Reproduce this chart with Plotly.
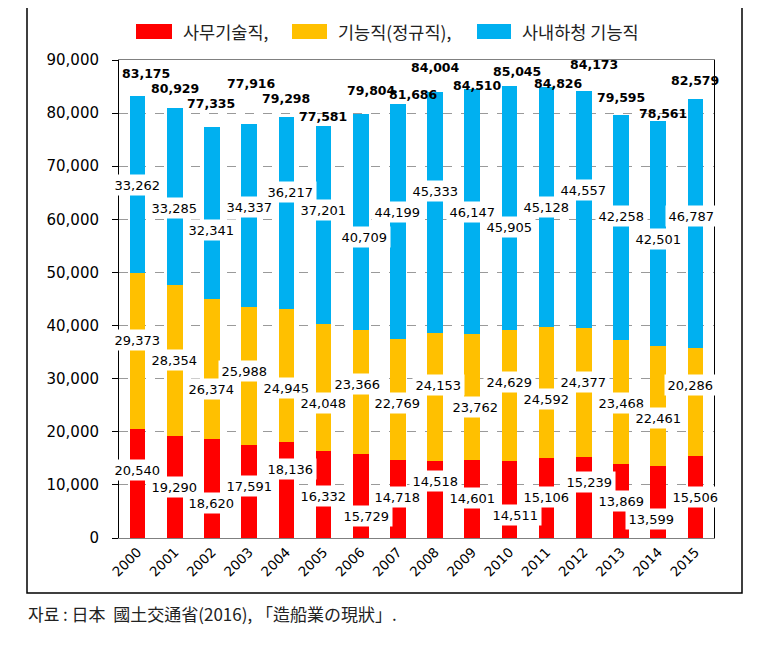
import plotly.graph_objects as go

# ---------------- data ----------------
years = [str(y) for y in range(2000, 2016)]
office_tech = [20540, 19290, 18620, 17591, 18136, 16332, 15729, 14718,
               14518, 14601, 14511, 15106, 15239, 13869, 13599, 15506]
skilled_regular = [29373, 28354, 26374, 25988, 24945, 24048, 23366, 22769,
                   24153, 23762, 24629, 24592, 24377, 23468, 22461, 20286]
subcontract = [33262, 33285, 32341, 34337, 36217, 37201, 40709, 44199,
               45333, 46147, 45905, 45128, 44557, 42258, 42501, 46787]
totals = [83175, 80929, 77335, 77916, 79298, 77581, 79804, 81686,
          84004, 84510, 85045, 84826, 84173, 79595, 78561, 82579]
series_names = ["사무기술직,", "기능직(정규직),", "사내하청 기능직"]
source_text = "자료 : 日本  國土交通省(2016), 「造船業の現狀」."

# ---------------- style ----------------
colors = ["#FF0000", "#FFC000", "#00B0F0"]
OFF = 8  # page body margin
W, H = 757 - OFF, 657 - OFF
L, T = 119 - OFF, 60 - OFF
R, B = W - (714 - OFF), H - (538 - OFF)
PW, PH = W - L - R, H - T - B

# label pixel offsets (style only)
red_dy = [13, 0, -14, 5, 21, -1, -20, 2, 18, 1, -16, 1, 16, 0, -17, 0]
red_dx = [0, 0, 0, 0, 4, 0, 6, 0, 0, 0, 6, 0, 6, 0, -7, 0]
org_dy = [11, 0, -20, 5, -13, -16, 8, -4, 12, -10, 14, -7, 10, -1, -12, 17]
org_dx = [0, 0, 0, -5, 0, 0, -3, 0, 3, 3, 0, 0, 0, 0, 0, -5]
blu_dy = [0, -11, -17, 8, 21, 15, -15, 10, 21, 0, -19, 0, 19, 11, -5, 8]
blu_dx = [0, 0, 0, 0, 4, 0, 4, 0, 0, 0, 0, 0, 0, 0, 0, -4]
tot_dy = [23, 20, 24, 41, 18, 9, 24, 10, 24, 4, 15, 4, 26, 18, 7, 19]
tot_dx = [8, 0, -1, 2, 0, -1, 11, 16, 0, 5, 8, 12, 10, 0, 5, 0]


def pxx(p):
    return (p - OFF - L) / PW


def pxy(p):
    return (H - B - (p - OFF)) / PH


fig = go.Figure()
for vals, c, n in zip([office_tech, skilled_regular, subcontract], colors, series_names):
    fig.add_trace(go.Bar(x=years, y=vals, name=n, marker=dict(color=c, line=dict(width=0)),
                         showlegend=False, hoverinfo="skip"))

ann = []
label_font = dict(family="DejaVu Sans", size=13, color="black")
base = [0] * len(years)
for vals, dys, dxs in [(office_tech, red_dy, red_dx), (skilled_regular, org_dy, org_dx),
                       (subcontract, blu_dy, blu_dx)]:
    for i, v in enumerate(vals):
        ann.append(dict(x=i, y=base[i] + v / 2, xref="x", yref="y",
                        text=f"{v:,}", showarrow=False, font=label_font,
                        bgcolor="white", borderpad=2.5, yshift=dys[i], xshift=dxs[i]))
    base = [b + v for b, v in zip(base, vals)]

for i, t in enumerate(totals):
    ann.append(dict(x=i, y=t, xref="x", yref="y", text=f"<b>{t:,}</b>",
                    showarrow=False, font=dict(family="DejaVu Sans", size=12.5, color="black"),
                    yshift=tot_dy[i], xshift=tot_dx[i]))

# custom legend
shapes = []
leg_sw = [(136, 172), (292, 327), (477, 511)]
for (x0, x1), c, n in zip(leg_sw, colors, series_names):
    shapes.append(dict(type="rect", xref="paper", yref="paper", x0=pxx(x0), x1=pxx(x1),
                       y0=pxy(39), y1=pxy(24), fillcolor=c, line=dict(width=0)))
    ann.append(dict(x=pxx(x1 + 9), y=pxy(31.5), xref="paper", yref="paper", text=n,
                    showarrow=False, xanchor="left", yanchor="middle",
                    font=dict(family="Noto Sans CJK KR", size=17.5, color="#222")))

# outer frame
shapes.append(dict(type="rect", xref="paper", yref="paper", x0=pxx(27), x1=pxx(742),
                   y0=pxy(593), y1=pxy(4), line=dict(color="black", width=1.5),
                   fillcolor="rgba(0,0,0,0)", layer="above"))

ann.append(dict(x=pxx(26), y=pxy(613), xref="paper", yref="paper", text=source_text,
                showarrow=False, xanchor="left", yanchor="middle",
                font=dict(family="Noto Sans CJK KR", size=17, color="#222")))

fig.update_layout(
    width=W, height=H, barmode="stack", bargap=0.58,
    margin=dict(l=L, r=R, t=T, b=B, autoexpand=False),
    plot_bgcolor="white", paper_bgcolor="white",
    annotations=ann, shapes=shapes, showlegend=False,
    xaxis=dict(type="category", range=[-0.5, len(years) - 0.5], tickangle=-45,
               showline=True, linecolor="#808080",
               linewidth=1, mirror=True, ticks="", showgrid=False,
               tickfont=dict(family="DejaVu Sans", size=13.5, color="black")),
    yaxis=dict(range=[0, 90000], dtick=10000, tickformat=",d", showline=True,
               linecolor="black", linewidth=1, mirror=True, ticks="outside", ticklen=6,
               tickcolor="black", showgrid=True, gridcolor="#9a9a9a", griddash="dash",
               gridwidth=1, zeroline=False, ticklabelstandoff=10,
               tickfont=dict(family="DejaVu Sans", size=15, color="black")),
)
fig.write_html("out.html")
